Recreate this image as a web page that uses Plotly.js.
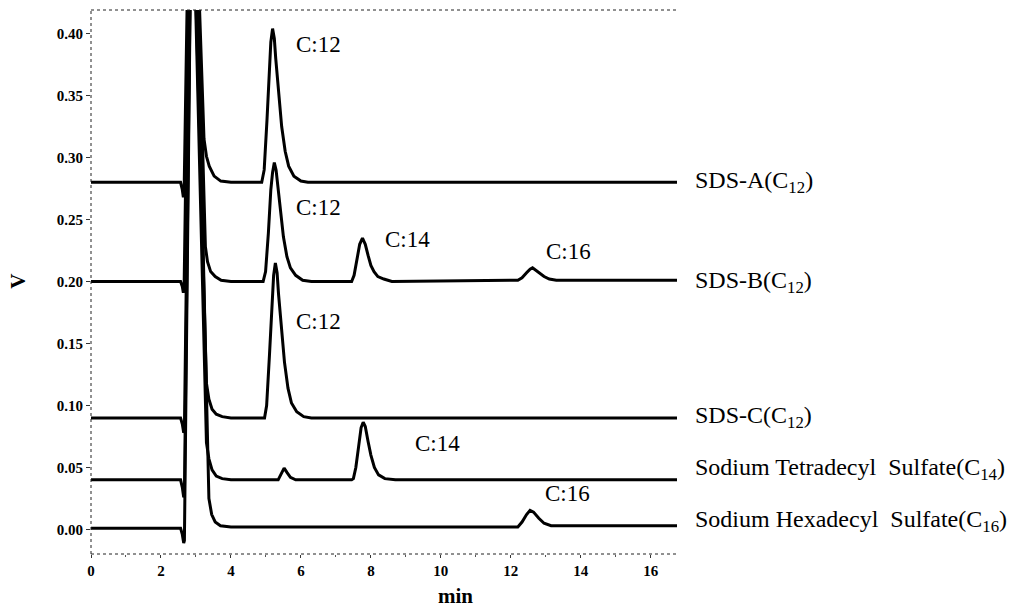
<!DOCTYPE html>
<html>
<head>
<meta charset="utf-8">
<script src="https://cdn.plot.ly/plotly-3.0.1.min.js"></script>
<style>html,body{margin:0;padding:0;background:#fff;}#chart{width:1014px;height:608px;}</style>
</head>
<body>
<div id="chart"></div>
<script>
// ---- data (time in min, signal in V) ----
const seriesNames = ["SDS-A(C<sub>12</sub>)", "SDS-B(C<sub>12</sub>)", "SDS-C(C<sub>12</sub>)",
  "Sodium Tetradecyl  Sulfate(C<sub>14</sub>)", "Sodium Hexadecyl  Sulfate(C<sub>16</sub>)"];

const sdsA_t = [0, 2.56, 2.61, 2.64, 2.66, 2.86, 3.23, 3.30, 3.38, 3.52, 3.71, 4.0, 4.88, 4.95, 5.03, 5.10, 5.14, 5.19, 5.24, 5.28, 5.35, 5.45, 5.55, 5.65, 5.80, 6.00, 6.20, 16.8];
const sdsA_v = [0.28, 0.28, 0.274, 0.268, 0.27, 0.62, 0.315, 0.301, 0.293, 0.285, 0.281, 0.28, 0.28, 0.29, 0.33, 0.375, 0.393, 0.404, 0.396, 0.38, 0.355, 0.325, 0.305, 0.293, 0.285, 0.281, 0.28, 0.28];

const sdsB_t = [0, 2.56, 2.61, 2.64, 2.66, 2.88, 3.27, 3.33, 3.42, 3.55, 3.72, 4.0, 4.92, 4.99, 5.07, 5.14, 5.19, 5.24, 5.29, 5.33, 5.40, 5.50, 5.60, 5.70, 5.85, 6.05, 6.3, 7.0, 7.45, 7.52, 7.60, 7.68, 7.76, 7.84, 7.92, 8.0, 8.09, 8.2, 8.37, 8.6, 12.2, 12.32, 12.45, 12.55, 12.62, 12.72, 12.85, 12.95, 13.1, 13.3, 16.8];
const sdsB_v = [0.20, 0.20, 0.196, 0.191, 0.193, 0.62, 0.228, 0.216, 0.208, 0.204, 0.201, 0.20, 0.20, 0.208, 0.239, 0.274, 0.288, 0.296, 0.290, 0.279, 0.259, 0.236, 0.220, 0.211, 0.205, 0.201, 0.20, 0.20, 0.20, 0.205, 0.218, 0.230, 0.235, 0.230, 0.221, 0.213, 0.208, 0.204, 0.202, 0.20, 0.201, 0.203, 0.207, 0.210, 0.211, 0.209, 0.206, 0.204, 0.202, 0.201, 0.201];

const sdsC_t = [0, 2.56, 2.61, 2.65, 2.67, 2.88, 3.30, 3.37, 3.46, 3.58, 3.75, 4.0, 4.96, 5.02, 5.10, 5.17, 5.22, 5.27, 5.32, 5.36, 5.43, 5.53, 5.63, 5.73, 5.88, 6.08, 6.3, 16.8];
const sdsC_v = [0.09, 0.09, 0.085, 0.078, 0.08, 0.55, 0.118, 0.105, 0.097, 0.093, 0.091, 0.09, 0.09, 0.10, 0.14, 0.185, 0.205, 0.215, 0.207, 0.19, 0.165, 0.135, 0.114, 0.102, 0.095, 0.091, 0.09, 0.09];

const tetra_t = [0, 2.56, 2.61, 2.65, 2.67, 2.88, 3.30, 3.37, 3.46, 3.58, 3.75, 4.0, 5.35, 5.45, 5.52, 5.60, 5.70, 5.85, 7.45, 7.50, 7.57, 7.65, 7.72, 7.78, 7.84, 7.92, 8.0, 8.1, 8.22, 8.4, 8.7, 16.8];
const tetra_v = [0.04, 0.04, 0.034, 0.026, 0.028, 0.55, 0.07, 0.057, 0.048, 0.043, 0.041, 0.04, 0.04, 0.046, 0.0495, 0.046, 0.042, 0.04, 0.04, 0.041, 0.05, 0.067, 0.082, 0.0865, 0.083, 0.071, 0.06, 0.05, 0.044, 0.041, 0.04, 0.04];

const hexa_t = [0, 2.56, 2.61, 2.65, 2.67, 2.90, 3.37, 3.45, 3.55, 3.70, 4.0, 12.2, 12.32, 12.45, 12.55, 12.65, 12.8, 12.95, 13.15, 13.4, 16.8];
const hexa_v = [0.001, 0.001, -0.004, -0.011, -0.009, 0.60, 0.025, 0.012, 0.006, 0.003, 0.002, 0.002, 0.006, 0.012, 0.0154, 0.014, 0.009, 0.005, 0.003, 0.003, 0.003];

const xTicks = [0, 2, 4, 6, 8, 10, 12, 14, 16];
const yTicks = [0.00, 0.05, 0.10, 0.15, 0.20, 0.25, 0.30, 0.35, 0.40];

const peakLabels = ["C:12", "C:12", "C:12", "C:14", "C:16", "C:14", "C:16"];
const peakLabelT = [5.8, 5.8, 5.8, 8.34, 12.94, 9.2, 12.91];
const peakLabelV = [0.391, 0.260, 0.168, 0.2335, 0.224, 0.0695, 0.029];
const seriesLabelV = [0.28, 0.20, 0.091, 0.0485, 0.0065];

// ---- drawing ----
const serif = "Liberation Serif, Times New Roman, serif";
const allT = [sdsA_t, sdsB_t, sdsC_t, tetra_t, hexa_t];
const allV = [sdsA_v, sdsB_v, sdsC_v, tetra_v, hexa_v];
const traces = allT.map((t, i) => ({
  x: t, y: allV[i], type: 'scatter', mode: 'lines', name: seriesNames[i],
  line: {color: '#000', width: 3, shape: 'linear'}, hoverinfo: 'skip'
}));

const annotations = [];
peakLabels.forEach((txt, i) => annotations.push({
  x: peakLabelT[i], y: peakLabelV[i], xref: 'x', yref: 'y', text: txt, showarrow: false,
  xanchor: 'left', yanchor: 'middle', font: {family: serif, size: 23, color: '#000'}
}));
seriesNames.forEach((txt, i) => annotations.push({
  x: 1.027, y: seriesLabelV[i], xref: 'paper', yref: 'y', text: txt, showarrow: false,
  xanchor: 'left', yanchor: 'middle', font: {family: serif, size: 24, color: '#000'}
}));
annotations.push({x: -0.126, y: 0.2, xref: 'paper', yref: 'y', text: 'V', textangle: -90, showarrow: false,
  xanchor: 'center', yanchor: 'middle', font: {family: serif, size: 21, weight: 'bold', color: '#000'}});
annotations.push({x: 10.43, y: -0.077, xref: 'x', yref: 'paper', text: 'min', showarrow: false,
  xanchor: 'center', yanchor: 'middle', font: {family: serif, size: 21, weight: 'bold', color: '#000'}});

const dotted = {color: '#222', width: 1, dash: 'dot'};
const shapes = [
  {type: 'line', xref: 'paper', yref: 'paper', x0: 0, x1: 0, y0: 0, y1: 1, line: dotted},
  {type: 'line', xref: 'paper', yref: 'paper', x0: 0, x1: 1, y0: 0, y1: 0, line: dotted},
  {type: 'line', xref: 'paper', yref: 'paper', x0: 0, x1: 1, y0: 1, y1: 1, line: dotted}
];

const layout = {
  width: 1014, height: 608,
  margin: {l: 91, r: 337, t: 10, b: 54, pad: 0},
  paper_bgcolor: '#fff', plot_bgcolor: '#fff',
  showlegend: false,
  xaxis: {range: [0, 16.75], tickvals: xTicks, ticktext: xTicks.map(String), showgrid: false, zeroline: false,
    showline: false, ticks: 'outside', ticklen: 3, tickcolor: '#333',
    minor: {dtick: 1, ticks: 'outside', ticklen: 2, tickcolor: '#555'},
    tickfont: {family: serif, size: 15, weight: 'bold', color: '#000'}},
  yaxis: {range: [-0.0198, 0.419], tickvals: yTicks, ticktext: yTicks.map(v => v.toFixed(2)), showgrid: false,
    zeroline: false, showline: false, ticks: 'outside', ticklen: 4, tickcolor: '#333',
    tickfont: {family: serif, size: 15, weight: 'bold', color: '#000'}},
  annotations: annotations,
  shapes: shapes
};

Plotly.newPlot('chart', traces, layout, {staticPlot: true, displayModeBar: false});
</script>
</body>
</html>
